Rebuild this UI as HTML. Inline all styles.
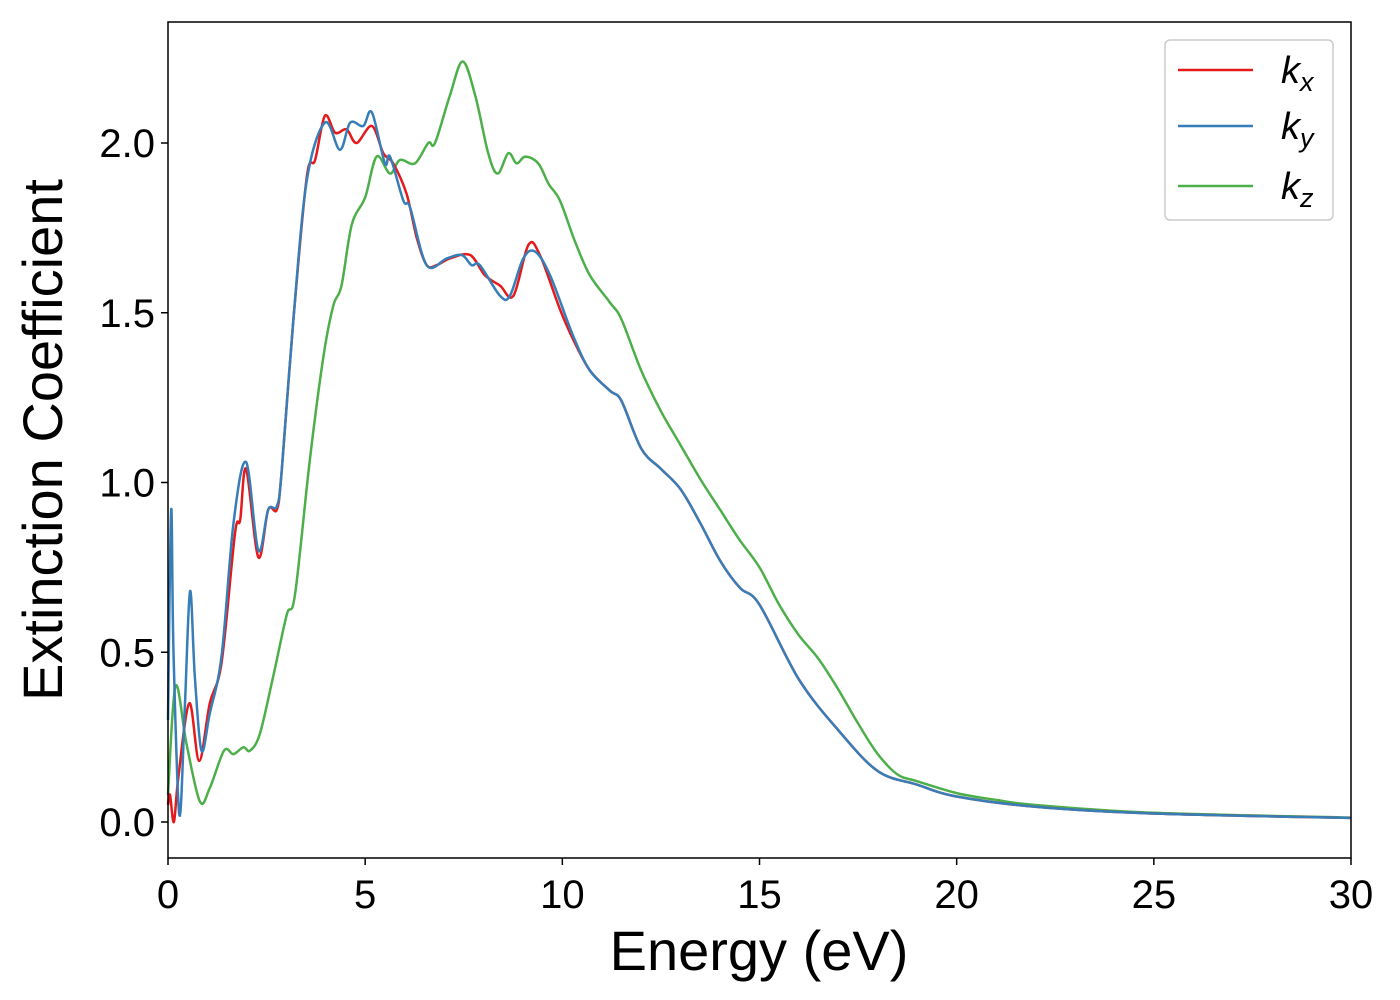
<!DOCTYPE html>
<html><head><meta charset="utf-8"><style>
body{margin:0;background:#fff}
svg{display:block;font-family:"Liberation Sans","DejaVu Sans",sans-serif}
</style></head><body>
<svg id="chart" width="1400" height="1000">
<rect x="0" y="0" width="1400" height="1000" fill="#fff"/>
<g id="series"></g>
<rect x="168" y="22" width="1183" height="836" fill="none" stroke="#000" stroke-width="1.5"/>
<g id="xticks"></g>
<g id="yticks"></g>
<text x="759" y="970" font-size="56" text-anchor="middle">Energy (eV)</text>
<text transform="translate(62,440) rotate(-90)" font-size="56" text-anchor="middle">Extinction Coefficient</text>
<g>
<rect x="1165" y="40" width="168" height="180" rx="5" fill="#fff" stroke="#ccc" stroke-width="1.5"/>
<line x1="1178" y1="70" x2="1253" y2="70" stroke="#e41a1c" stroke-width="2.5"/>
<text x="1281" y="83" font-size="38" font-style="italic">k<tspan font-size="27" dy="8">x</tspan></text>
<line x1="1178" y1="126" x2="1253" y2="126" stroke="#377eb8" stroke-width="2.5"/>
<text x="1281" y="139" font-size="38" font-style="italic">k<tspan font-size="27" dy="8">y</tspan></text>
<line x1="1178" y1="186" x2="1253" y2="186" stroke="#4daf4a" stroke-width="2.5"/>
<text x="1281" y="199" font-size="38" font-style="italic">k<tspan font-size="27" dy="8">z</tspan></text>
</g>
</svg>
<script>
const xTicks=[0,5,10,15,20,25,30];
const yTicks=[0.0,0.5,1.0,1.5,2.0];
const yTickLabels=["0.0","0.5","1.0","1.5","2.0"];
const kxE=[0,0.05,0.15,0.26,0.54,0.79,1.06,1.36,1.70,1.83,1.98,2.29,2.54,2.76,2.88,3.18,3.52,3.73,3.98,4.24,4.53,4.78,5.17,5.46,5.71,6.05,6.31,6.56,6.81,7.15,7.66,8.04,8.42,8.76,9.14,9.43,9.94,10.28,10.7,11.21,11.5,12,12.5,13,13.5,14,14.5,15,16,17,18,19,20,22,25,30];
const kxV=[0.05,0.08,0.0,0.13,0.35,0.18,0.35,0.47,0.85,0.89,1.04,0.78,0.92,0.92,1.03,1.48,1.90,1.95,2.08,2.03,2.04,2.00,2.05,1.97,1.94,1.85,1.72,1.64,1.64,1.66,1.67,1.61,1.58,1.55,1.70,1.67,1.51,1.42,1.33,1.27,1.24,1.10,1.04,0.98,0.88,0.77,0.69,0.64,0.42,0.27,0.15,0.11,0.075,0.045,0.025,0.012];
const kyE=[0,0.08,0.14,0.29,0.43,0.56,0.68,0.85,1.06,1.36,1.66,1.98,2.29,2.54,2.76,2.88,3.18,3.52,3.98,4.36,4.62,4.95,5.17,5.50,5.63,5.97,6.14,6.56,7.07,7.45,7.70,7.91,8.42,8.67,9.01,9.31,9.69,10.28,10.7,11.21,11.5,12,12.5,13,13.5,14,14.5,15,16,17,18,19,20,22,25,30];
const kyV=[0.3,0.92,0.5,0.02,0.35,0.68,0.43,0.21,0.32,0.49,0.88,1.06,0.80,0.92,0.93,1.03,1.48,1.89,2.06,1.98,2.06,2.05,2.09,1.94,1.96,1.83,1.81,1.64,1.66,1.67,1.64,1.64,1.55,1.55,1.66,1.68,1.61,1.43,1.33,1.27,1.24,1.10,1.04,0.98,0.88,0.77,0.69,0.64,0.42,0.27,0.15,0.11,0.075,0.045,0.025,0.012];
const kzE=[0,0.19,0.47,0.81,1.06,1.42,1.66,1.91,2.08,2.33,2.67,3.01,3.22,3.60,3.94,4.19,4.40,4.66,5.0,5.29,5.63,5.88,6.26,6.60,6.77,7.15,7.47,7.79,8.12,8.36,8.63,8.84,9.06,9.39,9.65,9.94,10.32,10.7,11.21,11.5,12,12.5,13,13.5,14,14.5,15,15.5,16,16.5,17,17.5,18,18.5,19,20,21,22,25,30];
const kzV=[0.08,0.40,0.23,0.06,0.10,0.21,0.20,0.22,0.21,0.26,0.43,0.61,0.67,1.07,1.37,1.52,1.58,1.76,1.84,1.96,1.91,1.95,1.94,2.00,2.00,2.14,2.24,2.14,1.97,1.91,1.97,1.94,1.96,1.94,1.88,1.83,1.71,1.61,1.53,1.48,1.33,1.21,1.11,1.01,0.92,0.83,0.75,0.64,0.55,0.48,0.39,0.29,0.20,0.14,0.12,0.085,0.065,0.05,0.027,0.013];
const NS="http://www.w3.org/2000/svg";
const xs=e=>168+e*(1183/30);
const ys=v=>822-v*339.5;
function pathD(E,V){
  const p=E.map((e,i)=>[xs(e),ys(V[i])]);
  let d="M"+p[0][0].toFixed(1)+","+p[0][1].toFixed(1);
  for(let i=0;i<p.length-1;i++){
    const p0=p[Math.max(0,i-1)],p1=p[i],p2=p[i+1],p3=p[Math.min(p.length-1,i+2)];
    const c1=[p1[0]+(p2[0]-p0[0])/6,p1[1]+(p2[1]-p0[1])/6];
    const c2=[p2[0]-(p3[0]-p1[0])/6,p2[1]-(p3[1]-p1[1])/6];
    d+="C"+c1[0].toFixed(1)+","+c1[1].toFixed(1)+" "+c2[0].toFixed(1)+","+c2[1].toFixed(1)+" "+p2[0].toFixed(1)+","+p2[1].toFixed(1);
  }
  return d;
}
const sg=document.getElementById("series");
[[kzE,kzV,"#4daf4a","line-kz"],[kxE,kxV,"#e41a1c","line-kx"],[kyE,kyV,"#377eb8","line-ky"]].forEach(s=>{
  const el=document.createElementNS(NS,"path");
  el.setAttribute("d",pathD(s[0],s[1]));
  el.setAttribute("fill","none");
  el.setAttribute("stroke",s[2]);
  el.setAttribute("stroke-width","2.5");
  
  
  sg.appendChild(el);
});
const xg=document.getElementById("xticks");
xTicks.forEach(t=>{
  const l=document.createElementNS(NS,"line");
  l.setAttribute("x1",xs(t));l.setAttribute("x2",xs(t));
  l.setAttribute("y1",858);l.setAttribute("y2",865);
  l.setAttribute("stroke","#000");l.setAttribute("stroke-width","1.5");
  
  
  xg.appendChild(l);
  const tx=document.createElementNS(NS,"text");
  tx.setAttribute("x",xs(t));tx.setAttribute("y",908);
  tx.setAttribute("font-size","40");tx.setAttribute("text-anchor","middle");
  tx.textContent=String(t);
  
  
  xg.appendChild(tx);
});
const yg=document.getElementById("yticks");
yTicks.forEach((t,i)=>{
  const l=document.createElementNS(NS,"line");
  l.setAttribute("x1",161);l.setAttribute("x2",168);
  l.setAttribute("y1",ys(t));l.setAttribute("y2",ys(t));
  l.setAttribute("stroke","#000");l.setAttribute("stroke-width","1.5");
  
  
  yg.appendChild(l);
  const tx=document.createElementNS(NS,"text");
  tx.setAttribute("x",155);tx.setAttribute("y",ys(t)+14);
  tx.setAttribute("font-size","40");tx.setAttribute("text-anchor","end");
  tx.textContent=yTickLabels[i];
  
  
  yg.appendChild(tx);
});
</script>
</body></html>
